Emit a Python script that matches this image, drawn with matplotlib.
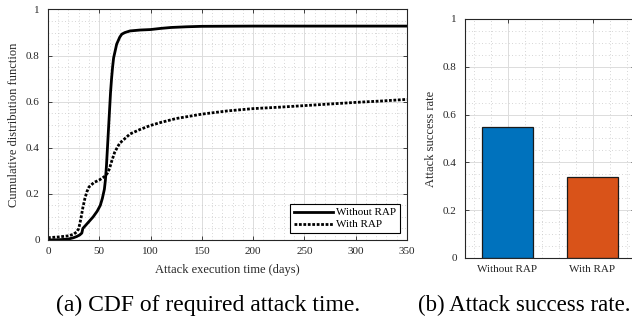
import numpy as np
import matplotlib
matplotlib.use('Agg')
import matplotlib.pyplot as plt
from matplotlib.ticker import MultipleLocator, FuncFormatter

plt.rcParams['font.family'] = 'Liberation Serif'
plt.rcParams['font.size'] = 8

# CDF of attack time
days_norap = [0, 10, 20, 25, 28, 31, 33, 34, 36, 40, 44, 48, 51, 53, 55, 56, 57, 58, 59, 60,
              61, 62, 63, 64, 65, 67, 70, 72, 75, 80, 85, 90, 100, 110, 120, 135, 150, 200, 250, 300, 350]
cdf_norap = [0, 0.001, 0.004, 0.01, 0.015, 0.022, 0.03, 0.05, 0.06, 0.08, 0.1, 0.125, 0.15, 0.18,
             0.22, 0.26, 0.32, 0.4, 0.48, 0.56, 0.64, 0.7, 0.75, 0.79, 0.81, 0.85, 0.88, 0.893, 0.9,
             0.907, 0.909, 0.911, 0.913, 0.918, 0.922, 0.925, 0.927, 0.928, 0.928, 0.928, 0.928]

days_rap = [0, 10, 20, 25, 28, 30, 32, 34, 36, 38, 40, 45, 50, 55, 58, 60, 62, 65, 68, 70, 75,
            80, 90, 100, 110, 125, 150, 175, 200, 225, 250, 275, 300, 325, 350]
cdf_rap = [0.01, 0.013, 0.018, 0.025, 0.035, 0.05, 0.09, 0.14, 0.18, 0.21, 0.23, 0.25, 0.26, 0.275,
           0.29, 0.31, 0.34, 0.38, 0.405, 0.42, 0.44, 0.46, 0.48, 0.497, 0.51, 0.527, 0.546, 0.56,
           0.57, 0.576, 0.583, 0.59, 0.597, 0.603, 0.61]

# attack success rate
groups = ['Without RAP', 'With RAP']
success = [0.548, 0.34]
bar_colors = ['#0072BD', '#D95319']

fig = plt.figure(figsize=(6.32, 3.22), dpi=100)
ax1 = fig.add_axes([0.0759, 0.2547, 0.568, 0.7158])
ax2 = fig.add_axes([0.7358, 0.1988, 0.269, 0.7422])

fmt = FuncFormatter(lambda v, p: '%g' % round(v, 2))


def matlab_style(ax):
    ax.grid(True, which='major', color='#dcdcdc', linewidth=0.7)
    ax.grid(True, which='minor', color='#c8c8c8', linestyle=(0, (1, 3)), linewidth=0.6)
    ax.set_axisbelow(True)
    ax.tick_params(which='both', direction='in', top=True, right=True, colors='#262626',
                   labelcolor='#262626', labelsize=8)
    ax.tick_params(which='major', length=3, width=0.6)
    ax.tick_params(axis='x', which='major', pad=5)
    ax.tick_params(axis='y', which='major', pad=6)
    ax.tick_params(which='minor', length=0)
    for s in ax.spines.values():
        s.set_color('#262626')
        s.set_linewidth(0.8)


ax1.plot(days_norap, cdf_norap, '-', color='k', linewidth=2, label='Without RAP')
ax1.plot(days_rap, cdf_rap, linestyle=(0, (1, 0.6)), color='k', linewidth=2, label='With RAP')
ax1.set_xlim(0, 350)
ax1.set_ylim(0, 1)
ax1.xaxis.set_major_locator(MultipleLocator(50))
ax1.xaxis.set_minor_locator(MultipleLocator(10))
ax1.yaxis.set_major_locator(MultipleLocator(0.2))
ax1.yaxis.set_minor_locator(MultipleLocator(0.05))
ax1.yaxis.set_major_formatter(fmt)
ax1.set_xlabel('Attack execution time (days)', fontsize=9, color='#262626', labelpad=6)
ax1.set_ylabel('Cumulative distribution function', fontsize=9, color='#262626', labelpad=4)
matlab_style(ax1)
leg = ax1.legend(loc='lower right', fontsize=8, fancybox=False, framealpha=1,
                 edgecolor='k', borderpad=0.35, handlelength=3.5, borderaxespad=0.6,
                 labelspacing=0.2, handletextpad=0.3)
leg.get_frame().set_linewidth(0.8)

x = np.arange(1, len(groups) + 1)
ax2.bar(x, success, width=0.6, color=bar_colors, edgecolor='#1a1a1a', linewidth=0.9)
ax2.set_xlim(0.5, 2.5)
ax2.set_ylim(0, 1)
ax2.set_xticks(x)
ax2.set_xticklabels(groups)
ax2.xaxis.set_minor_locator(MultipleLocator(0.2))
ax2.yaxis.set_major_locator(MultipleLocator(0.2))
ax2.yaxis.set_minor_locator(MultipleLocator(0.05))
ax2.yaxis.set_major_formatter(fmt)
ax2.set_ylabel('Attack success rate', fontsize=9, color='#262626', labelpad=4)
matlab_style(ax2)

fig.text(0.33, 0.035, '(a) CDF of required attack time.', ha='center', va='baseline', fontsize=17)
fig.text(0.661, 0.035, '(b) Attack success rate.', ha='left', va='baseline', fontsize=16.5)

fig.savefig('out.png', dpi=100)
